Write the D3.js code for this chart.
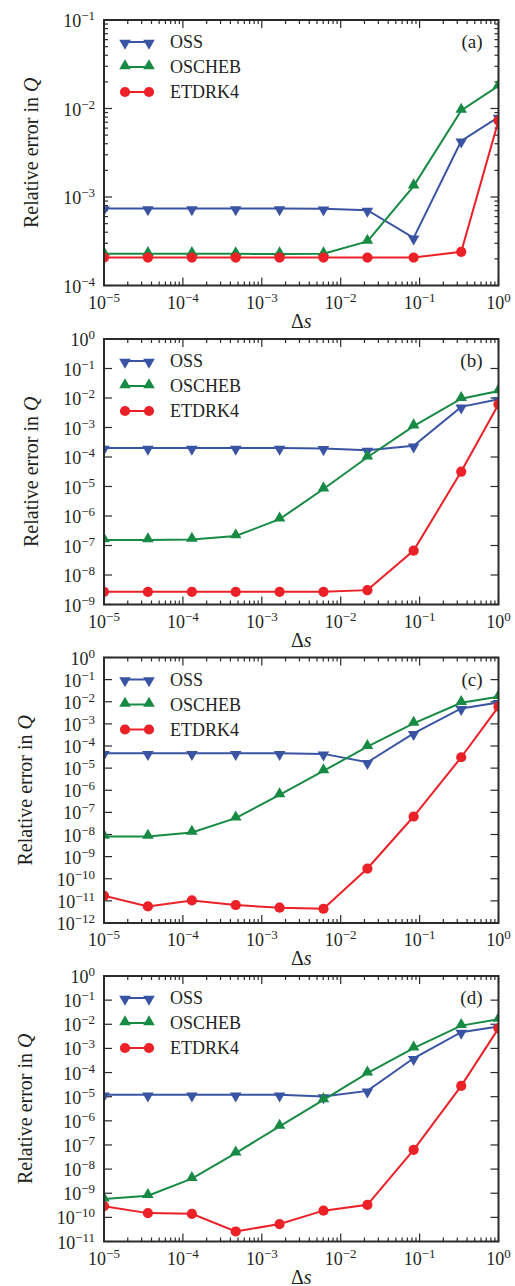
<!DOCTYPE html>
<html><head><meta charset="utf-8">
<script src="https://cdn.jsdelivr.net/npm/d3@7"></script>
<style>body{margin:0;background:#fff}svg{display:block}</style>
</head><body>
<script>
// ---------- DATA ----------
const xValues = [1e-5, 3.6e-5, 1.3e-4, 4.67e-4, 1.68e-3, 6.05e-3, 2.18e-2, 8.4e-2, 0.337, 1];
const seriesNames = ["OSS", "OSCHEB", "ETDRK4"];
const panelLabels = ["(a)", "(b)", "(c)", "(d)"];
const xExponents = [-5, -4, -3, -2, -1, 0];
const yDomainA = [1e-4, 1e-1];
const yDomainB = [1e-9, 1e0];
const yDomainC = [1e-12, 1e0];
const yDomainD = [1e-11, 1e0];

const ossA    = [7.4e-4, 7.4e-4, 7.4e-4, 7.4e-4, 7.4e-4, 7.35e-4, 7.1e-4, 3.45e-4, 4.3e-3, 8.0e-3];
const oschebA = [2.29e-4, 2.29e-4, 2.29e-4, 2.28e-4, 2.27e-4, 2.28e-4, 3.15e-4, 1.33e-3, 9.5e-3, 1.8e-2];
const etdrkA  = [2.07e-4, 2.07e-4, 2.07e-4, 2.07e-4, 2.07e-4, 2.07e-4, 2.07e-4, 2.07e-4, 2.4e-4, 7.3e-3];

const ossB    = [2.0e-4, 2.0e-4, 2.0e-4, 2.0e-4, 2.0e-4, 1.95e-4, 1.7e-4, 2.4e-4, 5.0e-3, 9.0e-3];
const oschebB = [1.55e-7, 1.55e-7, 1.6e-7, 2.1e-7, 7.8e-7, 8.2e-6, 9.8e-5, 1.12e-3, 9.5e-3, 1.74e-2];
const etdrkB  = [2.7e-9, 2.7e-9, 2.7e-9, 2.7e-9, 2.7e-9, 2.7e-9, 3.07e-9, 6.7e-8, 3.2e-5, 6.1e-3];

const ossC    = [4.7e-5, 4.7e-5, 4.7e-5, 4.7e-5, 4.7e-5, 4.4e-5, 1.83e-5, 3.7e-4, 5.0e-3, 9.3e-3];
const oschebC = [8.1e-9, 8.1e-9, 1.23e-8, 5.5e-8, 6.2e-7, 7.5e-6, 9.3e-5, 1.05e-3, 9.0e-3, 1.68e-2];
const etdrkC  = [1.7e-11, 5.6e-12, 1.05e-11, 6.5e-12, 4.9e-12, 4.4e-12, 2.9e-10, 6.5e-8, 3.1e-5, 6.0e-3];

const ossD    = [1.2e-5, 1.2e-5, 1.2e-5, 1.2e-5, 1.2e-5, 1.02e-5, 1.74e-5, 3.9e-4, 4.7e-3, 8.0e-3];
const oschebD = [5.7e-10, 7.9e-10, 4.0e-9, 4.6e-8, 5.9e-7, 7.4e-6, 9.4e-5, 1.02e-3, 8.8e-3, 1.6e-2];
const etdrkD  = [2.9e-10, 1.5e-10, 1.4e-10, 2.6e-11, 5.3e-11, 1.9e-10, 3.3e-10, 6.3e-8, 2.8e-5, 6.8e-3];

const panelData = [
  {domain: yDomainA, series: [ossA, oschebA, etdrkA]},
  {domain: yDomainB, series: [ossB, oschebB, etdrkB]},
  {domain: yDomainC, series: [ossC, oschebC, etdrkC]},
  {domain: yDomainD, series: [ossD, oschebD, etdrkD]}
];

// ---------- STYLE ----------
const W = 515, H = 1286;
const colors = ["#3a54a4", "#178a44", "#ec2027"];
const FONT = "'Liberation Serif','Times New Roman',serif";
const TXT = "#231f20", FRAME = "#2a2a2a";
const left = 104, right = 498.5, plotH = 265.5;
const tops = [20, 339, 657.5, 976];
const yLabelX = [38, 38, 32, 32];

const svg = d3.select("body").append("svg").attr("width", W).attr("height", H)
  .style("font-family", FONT);

const x = d3.scaleLog().domain([1e-5, 1]).range([left, right]);

function powLabel(sel, e) {
  sel.append("tspan").text("10");
  sel.append("tspan").attr("dy", -7).attr("font-size", 13)
    .text(e === 0 ? "0" : "\u2212" + Math.abs(e));
}

const triDown = d3.symbol().type(d3.symbolTriangle).size(58);
const circ = d3.symbol().type(d3.symbolCircle).size(82);
function marker(g, k, cx, cy) {
  if (k === 0) {
    g.append("path").attr("d", triDown()).attr("transform", `translate(${cx},${cy + 1}) rotate(180)`)
      .attr("fill", colors[k]);
  } else if (k === 1) {
    g.append("path").attr("d", triDown()).attr("transform", `translate(${cx},${cy - 1})`)
      .attr("fill", colors[k]);
  } else {
    g.append("path").attr("d", circ()).attr("transform", `translate(${cx},${cy})`)
      .attr("fill", colors[k]);
  }
}

panelData.forEach((p, i) => {
  const top = tops[i], bottom = top + plotH;
  const y = d3.scaleLog().domain(p.domain).range([bottom, top]);
  const g = svg.append("g");
  const eLo = Math.round(Math.log10(p.domain[0])), eHi = Math.round(Math.log10(p.domain[1]));
  const nDec = eHi - eLo;

  const clipId = "clip" + i;
  svg.append("clipPath").attr("id", clipId).append("rect")
    .attr("x", left).attr("y", top).attr("width", right - left).attr("height", plotH);

  // x ticks
  const xMajor = xExponents.map(e => Math.pow(10, e));
  const xMinor = [];
  xExponents.slice(0, -1).forEach(e => { for (let k = 2; k <= 9; k++) xMinor.push(k * Math.pow(10, e)); });
  const tickG = g.append("g").attr("stroke", FRAME).attr("stroke-width", 1.2);
  xMajor.forEach(v => {
    tickG.append("line").attr("x1", x(v)).attr("x2", x(v)).attr("y1", bottom).attr("y2", bottom - 8);
    tickG.append("line").attr("x1", x(v)).attr("x2", x(v)).attr("y1", top).attr("y2", top + 8);
  });
  xMinor.forEach(v => {
    tickG.append("line").attr("x1", x(v)).attr("x2", x(v)).attr("y1", bottom).attr("y2", bottom - 4);
    tickG.append("line").attr("x1", x(v)).attr("x2", x(v)).attr("y1", top).attr("y2", top + 4);
  });
  // y ticks
  const yExps = d3.range(eLo, eHi + 1);
  yExps.forEach(e => {
    const v = Math.pow(10, e);
    tickG.append("line").attr("x1", left).attr("x2", left + 8).attr("y1", y(v)).attr("y2", y(v));
    tickG.append("line").attr("x1", right).attr("x2", right - 8).attr("y1", y(v)).attr("y2", y(v));
  });
  if (nDec <= 4) {
    yExps.slice(0, -1).forEach(e => {
      for (let k = 2; k <= 9; k++) {
        const v = k * Math.pow(10, e);
        tickG.append("line").attr("x1", left).attr("x2", left + 4).attr("y1", y(v)).attr("y2", y(v));
        tickG.append("line").attr("x1", right).attr("x2", right - 4).attr("y1", y(v)).attr("y2", y(v));
      }
    });
  }

  // x tick labels
  xExponents.forEach(e => {
    const t = g.append("text").attr("x", x(Math.pow(10, e))).attr("y", bottom + 23)
      .attr("text-anchor", "middle").attr("font-size", 18).attr("fill", TXT);
    powLabel(t, e);
  });
  // y tick labels
  yExps.forEach(e => {
    const t = g.append("text").attr("x", left - 9).attr("y", y(Math.pow(10, e)) + 7)
      .attr("text-anchor", "end").attr("font-size", 18).attr("fill", TXT);
    powLabel(t, e);
  });

  // data lines
  const line = d3.line().x((d, j) => x(xValues[j])).y(d => y(d));
  const dataG = g.append("g").attr("clip-path", `url(#${clipId})`);
  p.series.forEach((s, k) => {
    dataG.append("path").datum(s).attr("d", line).attr("fill", "none")
      .attr("stroke", colors[k]).attr("stroke-width", 2);
    s.forEach((v, j) => marker(dataG, k, x(xValues[j]), y(v)));
  });

  // legend
  seriesNames.forEach((name, k) => {
    const ly = top + 22 + k * 25;
    g.append("line").attr("x1", left + 21).attr("x2", left + 45).attr("y1", ly).attr("y2", ly)
      .attr("stroke", colors[k]).attr("stroke-width", 2);
    marker(g, k, left + 21, ly);
    marker(g, k, left + 45, ly);
    g.append("text").attr("x", left + 66).attr("y", ly + 6).attr("font-size", 18)
      .attr("fill", TXT).text(name);
  });

  // panel label
  g.append("text").attr("x", right - 16).attr("y", top + 28).attr("text-anchor", "end")
    .attr("font-size", 19).attr("fill", TXT).text(panelLabels[i]);

  // frame
  g.append("rect").attr("x", left).attr("y", top).attr("width", right - left).attr("height", plotH)
    .attr("fill", "none").attr("stroke", FRAME).attr("stroke-width", 2);

  // axis titles
  const xt = g.append("text").attr("x", (left + right) / 2).attr("y", bottom + 42)
    .attr("text-anchor", "middle").attr("font-size", 20).attr("fill", TXT);
  xt.append("tspan").text("\u0394");
  xt.append("tspan").attr("font-style", "italic").text("s");

  const yt = g.append("text").attr("transform", `translate(${yLabelX[i]},${top + plotH / 2}) rotate(-90)`)
    .attr("text-anchor", "middle").attr("font-size", 20).attr("fill", TXT);
  yt.append("tspan").text("Relative error in ");
  yt.append("tspan").attr("font-style", "italic").text("Q");
});
</script>
</body></html>
